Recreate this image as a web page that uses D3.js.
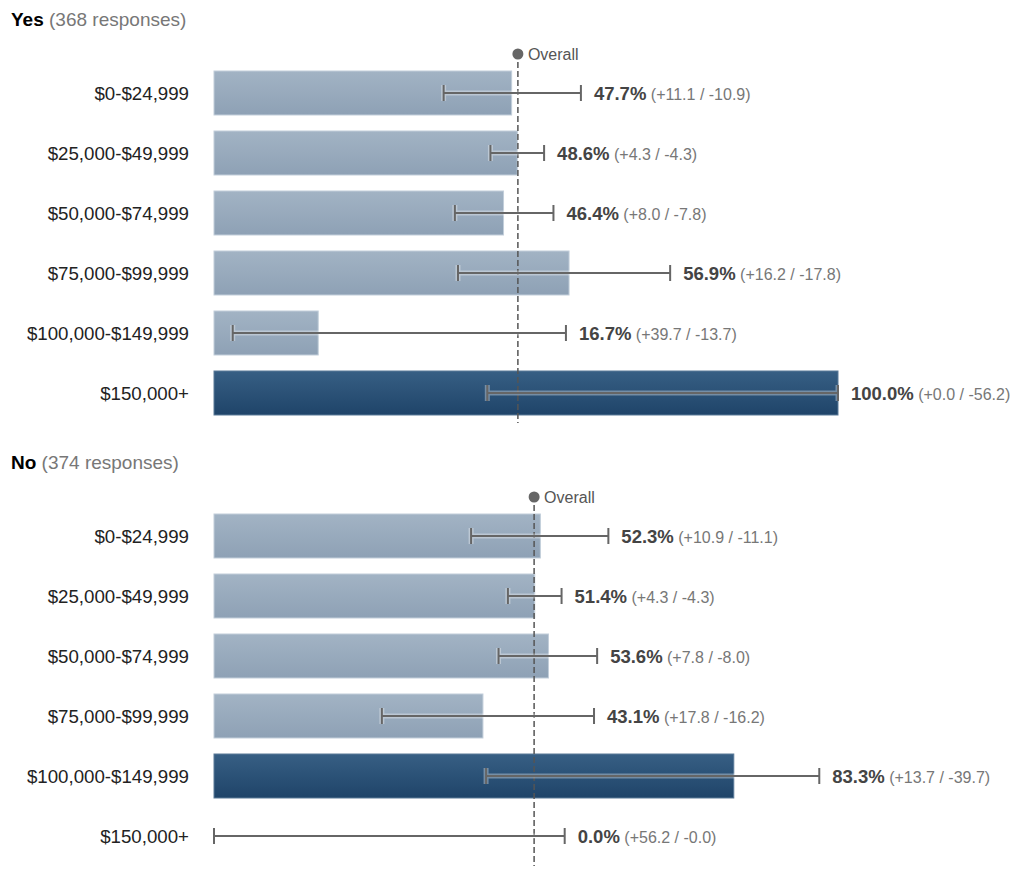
<!DOCTYPE html>
<html><head><meta charset="utf-8">
<script src="https://cdn.jsdelivr.net/npm/d3@7"></script>
<style>
body{margin:0;background:#fff;}
svg{font-family:"Liberation Sans",Arial,Helvetica,sans-serif;}
</style></head>
<body><svg id="chart" width="1024" height="884"></svg>
<script>
const categories = ["$0-$24,999","$25,000-$49,999","$50,000-$74,999","$75,000-$99,999","$100,000-$149,999","$150,000+"];
const groupNames = ["Yes","No"];
const groupResponses = [368, 374];
const yesValues = [47.7, 48.6, 46.4, 56.9, 16.7, 100.0];
const yesPlus  = [11.1, 4.3, 8.0, 16.2, 39.7, 0.0];
const yesMinus = [10.9, 4.3, 7.8, 17.8, 13.7, 56.2];
const noValues = [52.3, 51.4, 53.6, 43.1, 83.3, 0.0];
const noPlus   = [10.9, 4.3, 7.8, 17.8, 13.7, 56.2];
const noMinus  = [11.1, 4.3, 8.0, 16.2, 39.7, 0.0];
const overall = [48.7, 51.3];

const groups = [
  {name: groupNames[0], n: groupResponses[0], values: yesValues, plus: yesPlus, minus: yesMinus, overall: overall[0]},
  {name: groupNames[1], n: groupResponses[1], values: noValues, plus: noPlus, minus: noMinus, overall: overall[1]}
];

const svg = d3.select("#chart");
const defs = svg.append("defs");
const gl = defs.append("linearGradient").attr("id","gLight").attr("x1",0).attr("y1",0).attr("x2",0).attr("y2",1);
gl.append("stop").attr("offset","0%").attr("stop-color","#a2b3c4");
gl.append("stop").attr("offset","100%").attr("stop-color","#8ea1b5");
const gd = defs.append("linearGradient").attr("id","gDark").attr("x1",0).attr("y1",0).attr("x2",0).attr("y2",1);
gd.append("stop").attr("offset","0%").attr("stop-color","#375f84");
gd.append("stop").attr("offset","100%").attr("stop-color","#1f4469");

const x = d3.scaleLinear().domain([0,100]).range([214, 838]);
const groupOffset = 443;

groups.forEach((grp, gi) => {
  const g = svg.append("g").attr("transform", `translate(0,${gi*groupOffset})`);
  const t = g.append("text").attr("x", 11).attr("y", 26).attr("font-size", 19);
  t.append("tspan").attr("font-weight","bold").attr("fill","#000").text(grp.name);
  t.append("tspan").attr("fill","#777").text(` (${grp.n} responses)`);

  const y = d3.scaleBand().domain(categories).range([63, 423]).paddingInner(16/60).paddingOuter(8/60);
  const maxV = d3.max(grp.values);

  categories.forEach((c, i) => {
    const v = grp.values[i];
    const yc = y(c) + y.bandwidth()/2;
    g.append("text").attr("x", 189).attr("y", yc + 6.5).attr("text-anchor","end")
      .attr("font-size", 18.7).attr("fill","#222").text(c);
    if (v > 0) {
      g.append("rect").attr("x", x(0)).attr("y", y(c)).attr("width", x(v)-x(0)).attr("height", y.bandwidth())
        .attr("fill", v === maxV ? "url(#gDark)" : "url(#gLight)")
        .attr("stroke", v === maxV ? "#5a7a98" : "#c2ceda").attr("stroke-width", 1);
    }
  });

  // overall line
  const ox = x(grp.overall);
  g.append("line").attr("x1", ox).attr("x2", ox).attr("y1", 62).attr("y2", 423)
    .attr("stroke","#555").attr("stroke-width",1.5).attr("stroke-dasharray","6,3");
  g.append("circle").attr("cx", ox).attr("cy", 54).attr("r", 5.5).attr("fill","#666");
  g.append("text").attr("x", ox + 10).attr("y", 59.5).attr("font-size", 16).attr("fill","#555").text("Overall");

  categories.forEach((c, i) => {
    const v = grp.values[i];
    const yc = y(c) + y.bandwidth()/2;
    const lo = x(v - grp.minus[i]), hi = x(v + grp.plus[i]);
    const path = `M${lo},${yc-8}V${yc+8}M${lo},${yc}H${hi}M${hi},${yc-8}V${yc+8}`;
    g.append("path").attr("d", path).attr("stroke","#fff").attr("stroke-opacity",0.35).attr("stroke-width",5).attr("fill","none");
    g.append("path").attr("d", path).attr("stroke","#666").attr("stroke-width",2).attr("fill","none");
    const lx = Math.max(x(v), hi) + 13;
    const lt = g.append("text").attr("x", lx).attr("y", yc + 6.5).attr("font-size", 18.5);
    lt.append("tspan").attr("font-weight","bold").attr("fill","#444").text(v.toFixed(1) + "%");
    lt.append("tspan").attr("font-size", 16).attr("fill","#777").text(` (+${grp.plus[i].toFixed(1)} / -${grp.minus[i].toFixed(1)})`);
  });
});
</script></body></html>
